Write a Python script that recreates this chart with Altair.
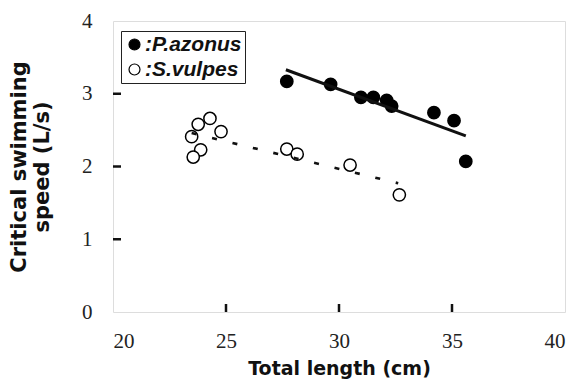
import altair as alt
import pandas as pd

# P. azonus (filled)
paz_x = [27.69, 29.63, 30.97, 31.52, 32.11, 32.33, 34.20, 35.09, 35.61]
paz_y = [3.17, 3.13, 2.95, 2.95, 2.91, 2.83, 2.74, 2.63, 2.07]
# S. vulpes (open)
svu_x = [24.29, 23.77, 24.78, 23.48, 23.88, 23.55, 27.69, 28.15, 30.49, 32.67]
svu_y = [2.66, 2.58, 2.48, 2.41, 2.23, 2.13, 2.24, 2.17, 2.02, 1.61]
# regression line endpoints
paz_line_x = [27.65, 35.61]
paz_line_y = [3.33, 2.42]
svu_line_x = [23.48, 32.62]
svu_line_y = [2.46, 1.77]

species = ["P.azonus", "S.vulpes"]
x_ticks = [25, 30, 35]
y_ticks = [1, 2, 3]

pts = pd.concat([
    pd.DataFrame({"x": paz_x, "y": paz_y, "sp": species[0]}),
    pd.DataFrame({"x": svu_x, "y": svu_y, "sp": species[1]}),
])
lines_paz = pd.DataFrame({"x": paz_line_x, "y": paz_line_y})
lines_svu = pd.DataFrame({"x": svu_line_x, "y": svu_line_y})

xs = alt.Scale(domain=[20, 40], nice=False)
ys = alt.Scale(domain=[0, 4], nice=False)

tick_font = "Liberation Serif"
title_font = "DejaVu Sans"

points = alt.Chart(pts).mark_point(shape="circle", filled=True, opacity=1, stroke="black", strokeWidth=1.5, size=150).encode(
    x=alt.X("x:Q", scale=xs, axis=alt.Axis(values=[20, 25, 30, 35, 40], format="d", title="Total length (cm)",
                                             labelFont=tick_font, labelFontSize=21, labelPadding=18,
                                             titleFont=title_font, titleFontSize=19, titleFontWeight="bold",
                                             titlePadding=8, domain=False, ticks=False, grid=False,
                                             labelColor="#222", titleColor="#111")),
    y=alt.Y("y:Q", scale=ys, axis=alt.Axis(values=[0, 1, 2, 3, 4], format="d", title=["Critical swimming", "speed  (L/s)"],
                                             labelFont=tick_font, labelFontSize=21, labelPadding=21,
                                             titleFont=title_font, titleFontSize=21, titleFontWeight="bold",
                                             titlePadding=29, domain=False, ticks=False, grid=False,
                                             labelColor="#222", titleColor="#111", titleLineHeight=23)),
    fill=alt.Fill("sp:N", scale=alt.Scale(domain=species, range=["black", "white"]),
                  legend=alt.Legend(title=None, orient="none", legendX=8, legendY=10,
                                    labelExpr="':' + datum.label", labelFont="Liberation Sans",
                                    labelFontSize=21, labelFontWeight="bold", labelFontStyle="italic",
                                    labelColor="#111", labelOffset=0,
                                    symbolType="circle", symbolSize=120, symbolStrokeColor="black",
                                    symbolStrokeWidth=1.2, rowPadding=3,
                                    strokeColor="#222", padding=3, fillColor="white")),
)

line_paz = alt.Chart(lines_paz).mark_line(color="#111", strokeWidth=3).encode(
    x=alt.X("x:Q", scale=xs), y=alt.Y("y:Q", scale=ys))
line_svu = alt.Chart(lines_svu).mark_line(color="#111", strokeWidth=2.6, strokeDash=[5, 16]).encode(
    x=alt.X("x:Q", scale=xs), y=alt.Y("y:Q", scale=ys))

xt = alt.Chart(pd.DataFrame({"t": x_ticks})).mark_rule(color="#111", strokeWidth=2.5).encode(
    x=alt.X("t:Q", scale=xs), y=alt.value(291), y2=alt.value(283))
yt = alt.Chart(pd.DataFrame({"t": y_ticks})).mark_rule(color="#111", strokeWidth=2.5).encode(
    y=alt.Y("t:Q", scale=ys), x=alt.value(0), x2=alt.value(8))

chart = alt.layer(points, line_svu, line_paz, xt, yt).properties(
    width=452, height=291,
    autosize=alt.AutoSizeParams(type="none"),
    padding={"left": 105, "top": 13, "right": 5, "bottom": 70},
).configure_view(stroke="#111", strokeWidth=3).configure(background="white")

chart.save("out.html", embed_options={"renderer": "svg", "actions": False})
